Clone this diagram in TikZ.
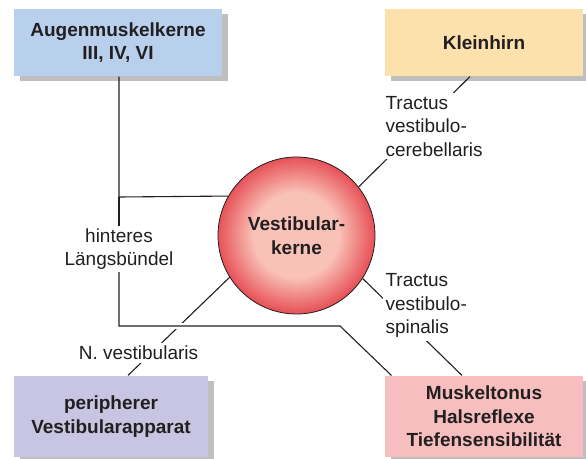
\documentclass[tikz,border=0pt]{standalone}
\usepackage{fontspec}
\setmainfont{Liberation Sans}
\usepackage{xcolor,tikz}
\usetikzlibrary{shadows}
\definecolor{boxblue}{RGB}{185,208,236}
\definecolor{boxyellow}{RGB}{253,225,172}
\definecolor{boxlilac}{RGB}{200,197,226}
\definecolor{boxpink}{RGB}{246,190,190}
\definecolor{shadowgray}{RGB}{128,128,130}
\definecolor{ink}{RGB}{35,31,32}
\definecolor{kernin}{RGB}{249,194,184}
\definecolor{kernout}{RGB}{231,82,88}

\begin{document}
\begin{tikzpicture}[x=1pt,y=-1pt,color=ink,line width=1.1pt,every node/.style={font=\fontsize{19}{23.5}\selectfont,align=center},
  area/.style={font=\bfseries\fontsize{19}{23.5}\selectfont,minimum width=198pt,minimum height=67pt,inner sep=0pt,drop shadow={shadow xshift=6pt,shadow yshift=-5pt,fill=shadowgray}},
  tract/.style={fill=white,inner sep=3pt,align=left}]
\useasboundingbox (0,0) rectangle (586,458);
\node[area,fill=boxblue,minimum width=208pt] (augen) at (118,42.5) {Augenmuskelkerne\\III, IV, VI};
\node[area,fill=boxyellow] (klein) at (484,42.5) {Kleinhirn};
\node[area,fill=boxlilac,minimum width=194pt,minimum height=81pt] (peri) at (111,416.5) {peripherer\\Vestibularapparat};
\node[area,fill=boxpink,minimum height=81pt] (musk) at (484,416.5) {Muskeltonus\\Halsreflexe\\Tiefensensibilität};
\coordinate (vc) at (296.5,235.5);
\foreach \r in {78.5,77.5,...,43.5}{\pgfmathsetmacro\p{(\r-43)/35.5*100}\fill[kernout!\p!kernin] (vc) circle[radius=\r pt];}
\fill[kernin] (vc) circle[radius=43pt];
\node[circle,draw,line width=.8pt,minimum size=157pt,inner sep=0pt,font=\bfseries\fontsize{19}{23.5}\selectfont] (vest) at (vc) {Vestibular-\\kerne};
\node[inner sep=2pt] (hlb) at (119,249) {hinteres\\Längsbündel};
\coordinate (j1) at (119,197);\coordinate (j2) at (119,326);\coordinate (j3) at (340,326);
\draw (j1 |- augen.south) -- (j1) -- (vest.150.6);\draw (j1) -- (hlb.north);
\draw ([xshift=-14pt]klein.south) -- (vest.38.8);\draw (vest.327) -- ([xshift=-22pt]musk.north);
\draw ([xshift=17pt]peri.north) -- (vest.212);
\draw[white,line width=6pt] (j2) -- (j3);
\draw (hlb.south) -- (j2) -- (j3) -- ([xshift=7pt]musk.north west);
\node[tract,anchor=north west] (tvc) at (382,92.5) {Tractus\\vestibulo-\\cerebellaris};
\node[tract,anchor=north west] (tvs) at (382,270) {Tractus\\vestibulo-\\spinalis};
\node[tract] (nv) at (138.5,353) {N. vestibularis};
\end{tikzpicture}
\end{document}
